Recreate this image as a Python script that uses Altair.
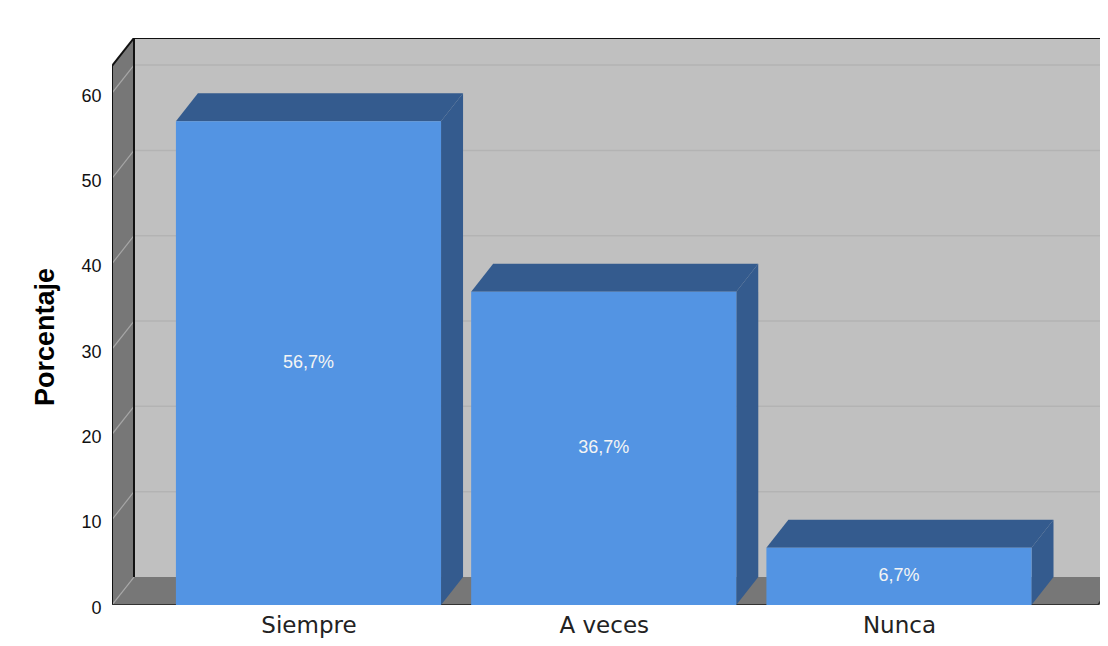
import altair as alt
import pandas as pd

# ---------------- data ----------------
categories = ["Siempre", "A veces", "Nunca"]
values = [56.7, 36.7, 6.7]
labels = ["56,7%", "36,7%", "6,7%"]
tick_values = [0, 10, 20, 30, 40, 50, 60]

# ---------------- geometry (scale units) ----------------
W, H = 988, 567
PX_PER_SLOT = 295.24
X_MIN = -0.6655                   # x in category slots
X_MAX = X_MIN + W / PX_PER_SLOT
Y_MAX = 66.45                     # y in percent
HALF = 0.449                      # half bar width
DX, DY = 0.0745, 3.28             # 3D depth offset
FLOOR_R = 2.674
FAR_R = 2.95

FRONT = "#5394E3"
DARK = "#345B8E"
WALL = "#C0C0C0"
SIDE = "#777777"

xs = alt.Scale(domain=[X_MIN, X_MAX], nice=False, zero=False)
ys = alt.Scale(domain=[0, Y_MAX], nice=False, zero=False)
label_expr = "[" + ",".join("'%s'" % c for c in categories) + "][datum.value]"

x_axis = alt.Axis(values=list(range(len(categories))), labelExpr=label_expr, title="",
                  domain=False, ticks=False, grid=False, labelFont="DejaVu Sans",
                  labelFontSize=23, labelColor="#222222", labelBaseline="alphabetic",
                  labelPadding=27, labelFlush=False, labelOverlap=False)
y_axis = alt.Axis(values=tick_values, title="Porcentaje", domain=False, ticks=False,
                  grid=False, labelFont="Liberation Sans", labelFontSize=18,
                  labelColor="#111111", labelPadding=11, labelBaseline="middle",
                  labelOffset=3, labelOverlap=False, titleFont="Liberation Sans",
                  titleFontSize=27, titleFontWeight="bold", titleColor="#000000",
                  titleAngle=270, titleX=-59, titleY=298.5, titleAlign="center",
                  titleBaseline="alphabetic")


def X(f="x"):
    return alt.X(f + ":Q", scale=xs, axis=x_axis, stack=False)


def Y(f="y"):
    return alt.Y(f + ":Q", scale=ys, axis=y_axis, stack=False)


def segs(rows, color, width):
    df = pd.DataFrame(rows, columns=["x", "x2", "y", "y2"])
    return alt.Chart(df).mark_rule(color=color, strokeWidth=width, clip=True).encode(
        x=X(), x2="x2:Q", y=Y(), y2="y2:Q")


# back wall
backwall = alt.Chart(pd.DataFrame({"x": [X_MIN + DX], "x2": [FAR_R], "y": [DY], "y2": [Y_MAX]})
                     ).mark_rect(color=WALL, clip=True).encode(x=X(), x2="x2:Q", y=Y(), y2="y2:Q")
back_grid = segs([(X_MIN + DX, FAR_R, v + DY, v + DY) for v in tick_values[1:]], "#B3B3B3", 1.5)

# side wall
side_df = pd.DataFrame({"x": [X_MIN, X_MIN + DX], "y": [0, DY], "y2": [Y_MAX - DY, Y_MAX]})
sidewall = alt.Chart(side_df).mark_area(color=SIDE, orient="vertical").encode(
    x=X(), y=Y(), y2="y2:Q")

# floor
floor_df = pd.DataFrame({"y": [0, DY], "x": [X_MIN, X_MIN + DX], "x2": [FLOOR_R, FLOOR_R + DX]})
floor = alt.Chart(floor_df).mark_area(color=SIDE, orient="horizontal", clip=True).encode(
    y=Y(), x=X(), x2="x2:Q")

side_grid = segs([(X_MIN, X_MIN + DX, v, v + DY) for v in tick_values], "#A6A6A6", 1.2)

edges_black = segs([
    (X_MIN + DX, FAR_R, Y_MAX, Y_MAX),
    (X_MIN + DX, X_MIN + DX, DY, Y_MAX),
    (X_MIN, X_MIN, 0, Y_MAX - DY),
    (X_MIN, X_MIN + DX, Y_MAX - DY, Y_MAX),
], "#111111", 2)
edges_floor = segs([
    (X_MIN, FLOOR_R, 0, 0),
    (FLOOR_R, FLOOR_R + DX, 0, DY),
], "#333333", 2)

# bars
front_rows, top_rows, side_rows = [], [], []
for i, (c, v, lab) in enumerate(zip(categories, values, labels)):
    front_rows.append({"cat": c, "x": i - HALF, "x2": i + HALF, "y": 0, "y2": v,
                       "xc": i, "ym": v / 2, "label": lab})
    top_rows.append({"cat": c, "y": v, "x": i - HALF, "x2": i + HALF})
    top_rows.append({"cat": c, "y": v + DY, "x": i - HALF + DX, "x2": i + HALF + DX})
    side_rows.append({"cat": c, "x": i + HALF, "y": 0, "y2": v})
    side_rows.append({"cat": c, "x": i + HALF + DX, "y": DY, "y2": v + DY})

bar_side = alt.Chart(pd.DataFrame(side_rows)).mark_area(color=DARK, orient="vertical").encode(
    x=X(), y=Y(), y2="y2:Q", detail="cat:N")
bar_top = alt.Chart(pd.DataFrame(top_rows)).mark_area(color=DARK, orient="horizontal").encode(
    y=Y(), x=X(), x2="x2:Q", detail="cat:N")
front_df = pd.DataFrame(front_rows)
bar_front = alt.Chart(front_df).mark_rect(color=FRONT).encode(
    x=X(), x2="x2:Q", y=Y(), y2="y2:Q")
bar_text = alt.Chart(front_df).mark_text(color="#F4F4F4", font="Liberation Sans", fontSize=18,
                                         align="center", baseline="middle").encode(
    x=X("xc"), y=Y("ym"), text="label:N")

chart = alt.layer(
    backwall, back_grid, sidewall, floor, side_grid, edges_black, edges_floor,
    bar_side, bar_top, bar_front, bar_text
).properties(
    width=W, height=H,
    padding={"left": 104, "top": 30, "right": 0, "bottom": 33},
    autosize=alt.AutoSizeParams(type="none"),
    background="white",
).configure_view(strokeWidth=0)

chart.save("out.html", embed_options={"renderer": "svg", "actions": False})
